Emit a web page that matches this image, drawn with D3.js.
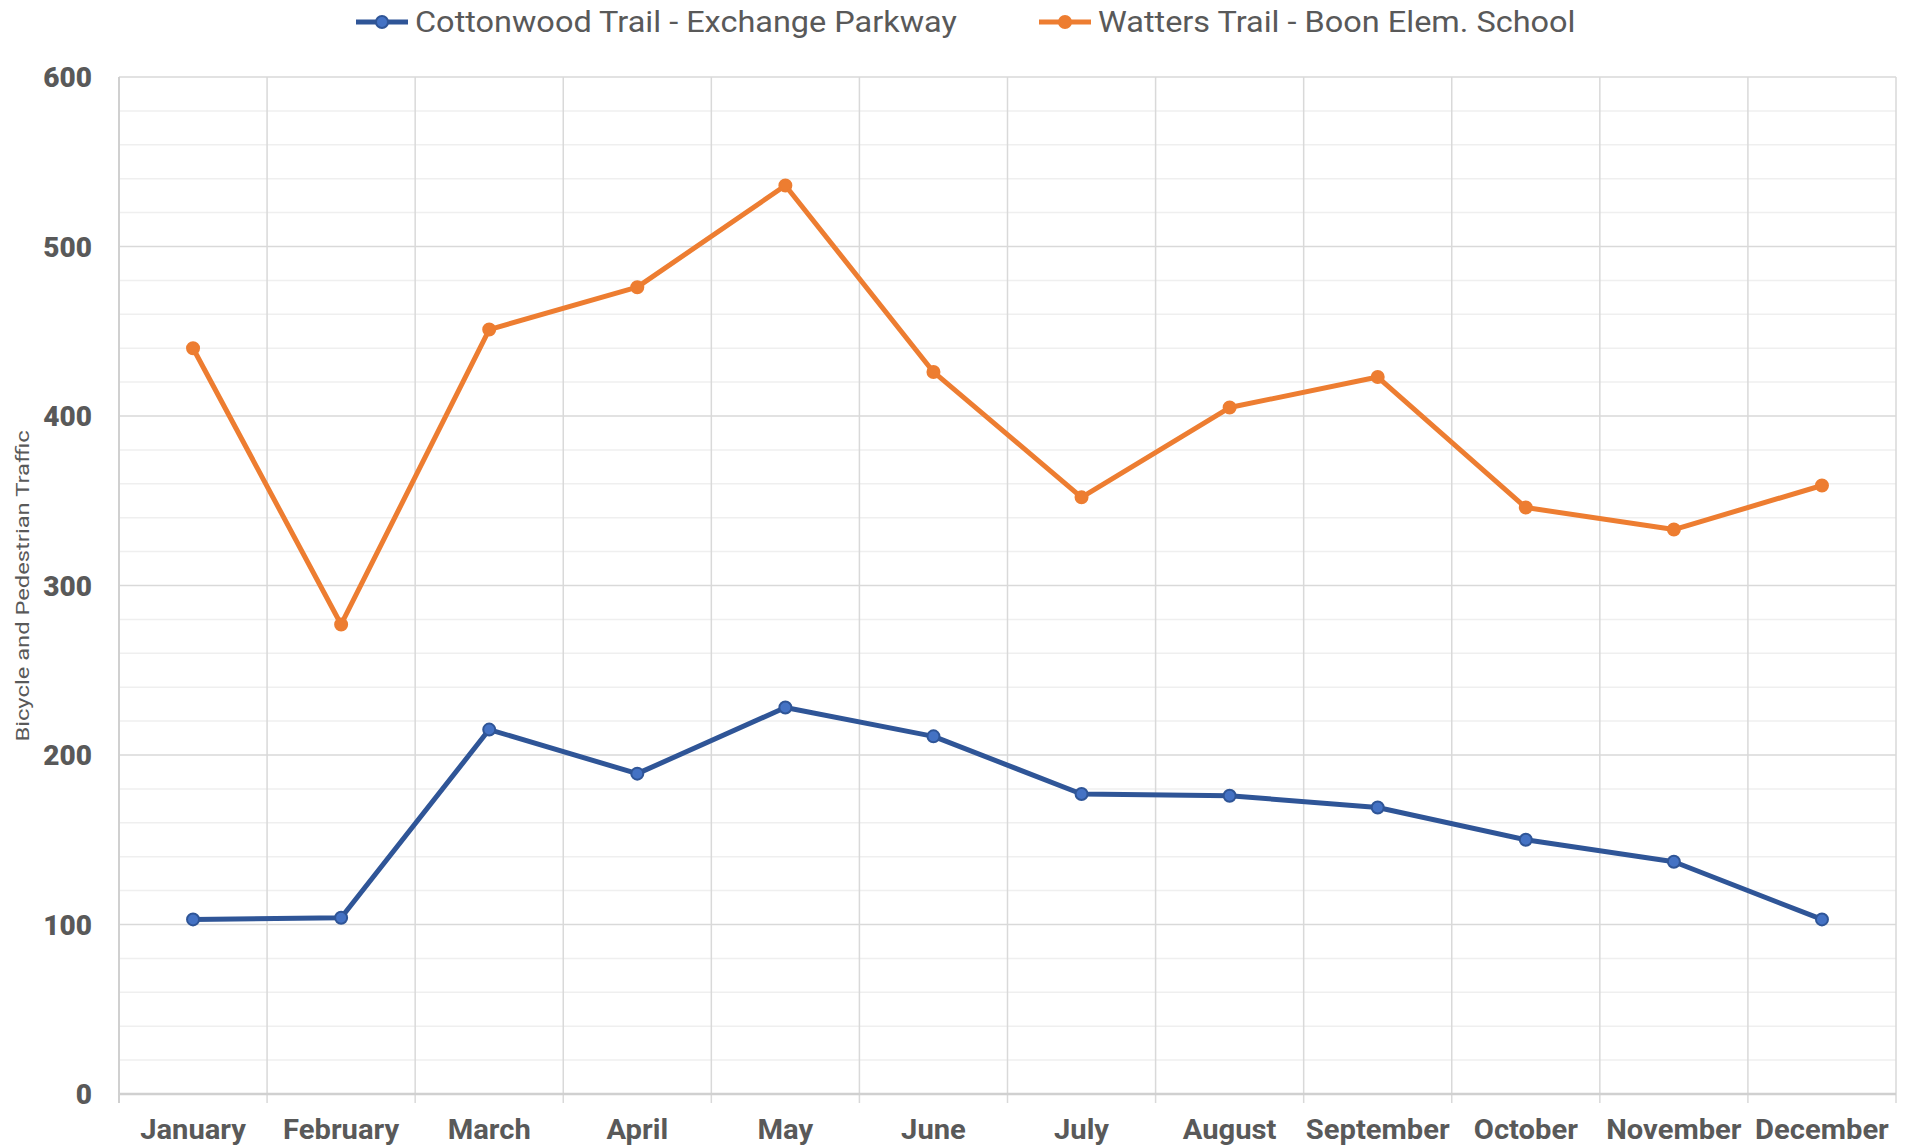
<!DOCTYPE html>
<html>
<head>
<meta charset="utf-8">
<script src="https://cdn.jsdelivr.net/npm/d3@7"></script>
<style>
  body { margin: 0; background: #fff; }
  text { font-family: Roboto, "Open Sans", sans-serif; fill: #595959; }
</style>
</head>
<body>
<svg></svg>
<script>
//Setting
const width = 1921;
const height = 1147;
const margin = {top: 77, right: 25, bottom: 53, left: 119};

//Data
const months = ["January", "February", "March", "April", "May", "June",
                "July", "August", "September", "October", "November", "December"];
const cottonwood = [103, 104, 215, 189, 228, 211, 177, 176, 169, 150, 137, 103];
const watters = [440, 277, 451, 476, 536, 426, 352, 405, 423, 346, 333, 359];
const seriesNames = ["Cottonwood Trail - Exchange Parkway", "Watters Trail - Boon Elem. School"];
const yTicks = [0, 100, 200, 300, 400, 500, 600];

const series = [
  {name: seriesNames[0], values: cottonwood, color: "#2F5597", fill: "#4472C4"},
  {name: seriesNames[1], values: watters, color: "#ED7D31", fill: "#ED7D31"}
];

const svg = d3.select("svg")
            .attr("width", width)
            .attr("height", height);

const x = d3.scaleBand()
            .domain(months)
            .range([margin.left, width - margin.right]);

const y = d3.scaleLinear()
            .domain([0, 600])
            .range([height - margin.bottom, margin.top]);

//Minor grid
svg.append("g")
  .selectAll("line")
  .data(d3.range(0, 601, 20).filter(d => d % 100 !== 0))
  .enter()
  .append("line")
  .attr("x1", margin.left)
  .attr("x2", width - margin.right)
  .attr("y1", d => y(d))
  .attr("y2", d => y(d))
  .attr("stroke", "#efefef")
  .attr("stroke-width", 1.5);

//Major grid
svg.append("g")
  .selectAll("line")
  .data(yTicks.filter(d => d > 0))
  .enter()
  .append("line")
  .attr("x1", margin.left)
  .attr("x2", width - margin.right)
  .attr("y1", d => y(d))
  .attr("y2", d => y(d))
  .attr("stroke", "#d9d9d9")
  .attr("stroke-width", 1.5);

//Vertical grid with ticks below the axis
svg.append("g")
  .selectAll("line")
  .data(months.slice(1).concat(["end"]))
  .enter()
  .append("line")
  .attr("x1", (d, i) => x(months[0]) + x.bandwidth() * (i + 1))
  .attr("x2", (d, i) => x(months[0]) + x.bandwidth() * (i + 1))
  .attr("y1", margin.top)
  .attr("y2", height - margin.bottom + 9)
  .attr("stroke", "#d9d9d9")
  .attr("stroke-width", 1.5);

//Left axis line
svg.append("line")
  .attr("x1", margin.left).attr("x2", margin.left)
  .attr("y1", margin.top).attr("y2", height - margin.bottom + 9)
  .attr("stroke", "#d0d0d0")
  .attr("stroke-width", 2);

//Bottom axis line
svg.append("line")
  .attr("x1", margin.left).attr("x2", width - margin.right)
  .attr("y1", y(0)).attr("y2", y(0))
  .attr("stroke", "#d0d0d0")
  .attr("stroke-width", 2.5);

//Y tick labels
svg.append("g")
  .selectAll("text")
  .data(yTicks)
  .enter()
  .append("text")
  .attr("x", 92)
  .attr("y", d => y(d))
  .attr("dy", "0.36em")
  .attr("text-anchor", "end")
  .style("font-size", "28px")
  .style("font-weight", "900")
  .text(d => d);

//X labels
svg.append("g")
  .selectAll("text")
  .data(months)
  .enter()
  .append("text")
  .attr("transform", d => `translate(${x(d) + x.bandwidth() / 2}, 1139) scale(1.08, 1)`)
  .attr("text-anchor", "middle")
  .style("font-size", "27px")
  .style("font-weight", "bold")
  .text(d => d);

//Y axis title
svg.append("text")
  .attr("transform", "translate(29, 586) rotate(-90) scale(1.25, 1)")
  .attr("text-anchor", "middle")
  .style("font-size", "19px")
  .text("Bicycle and Pedestrian Traffic");

const line = d3.line()
  .x((d, i) => x(months[i]) + x.bandwidth() / 2)
  .y(d => y(d));

series.forEach(s => {
  svg.append("path")
    .datum(s.values)
    .attr("d", line)
    .attr("fill", "none")
    .attr("stroke", s.color)
    .attr("stroke-width", 5)
    .attr("stroke-linejoin", "round");

  svg.append("g")
    .selectAll("circle")
    .data(s.values)
    .enter()
    .append("circle")
    .attr("cx", (d, i) => x(months[i]) + x.bandwidth() / 2)
    .attr("cy", d => y(d))
    .attr("r", 6)
    .attr("fill", s.fill)
    .attr("stroke", s.color)
    .attr("stroke-width", 2);
});

//Legend
const legendX = [356, 1039];
const legend = svg.append("g")
  .selectAll("g")
  .data(series)
  .enter()
  .append("g")
  .attr("transform", (d, i) => `translate(${legendX[i]}, 22)`);

legend.append("line")
  .attr("x1", 0).attr("x2", 52)
  .attr("stroke", d => d.color)
  .attr("stroke-width", 5);

legend.append("circle")
  .attr("cx", 26)
  .attr("r", 6)
  .attr("fill", d => d.fill)
  .attr("stroke", d => d.color)
  .attr("stroke-width", 2);

legend.append("text")
  .attr("transform", "translate(59, 0) scale(1.12, 1)")
  .attr("dy", "0.36em")
  .style("font-size", "29px")
  .text(d => d.name);
</script>
</body>
</html>
